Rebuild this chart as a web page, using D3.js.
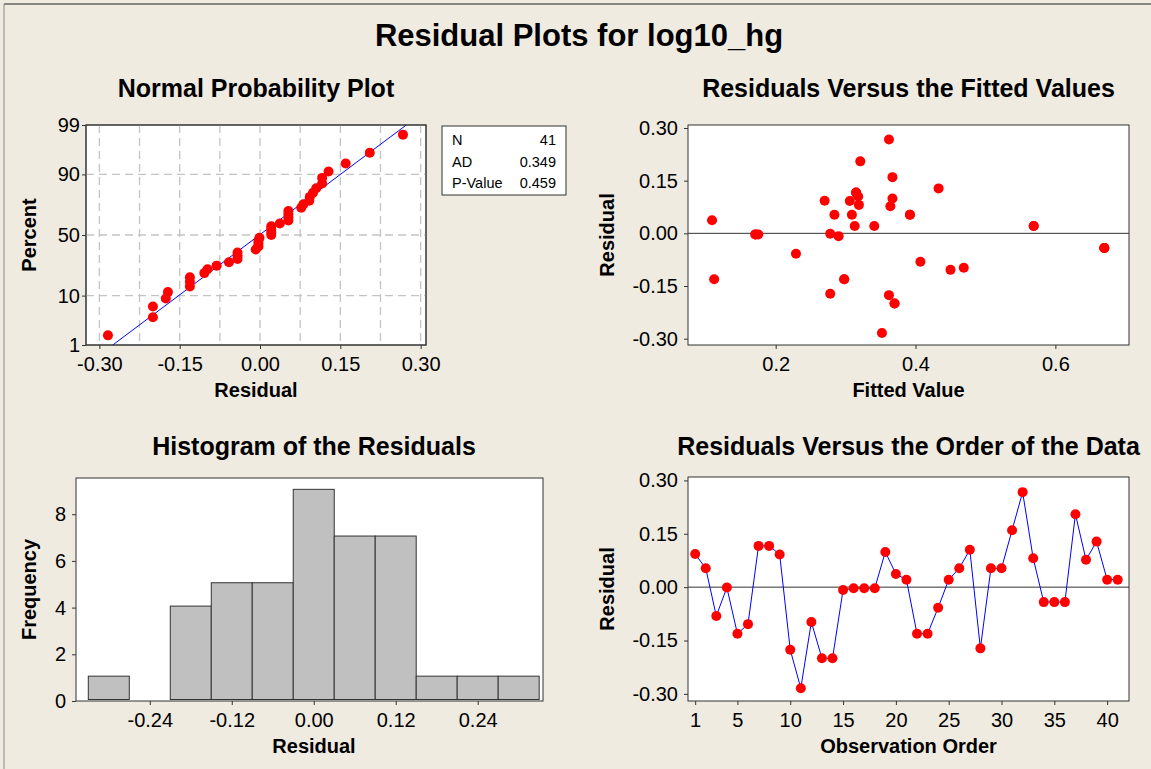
<!DOCTYPE html>
<html>
<head>
<meta charset="utf-8">
<script src="https://d3js.org/d3.v7.min.js"></script>
<style>
body { margin: 0; background: #efebe1; }
svg text { font-family: "Liberation Sans", Arial, sans-serif; fill: #000; }
.tick text { font-size: 20px; }
.tick line { stroke: #333; }
.ttl { font-weight: bold; font-size: 25px; text-anchor: middle; }
.lab { font-weight: bold; font-size: 20px; text-anchor: middle; }
.frame { fill: #fff; stroke: #333; }
</style>
</head>
<body>
<svg width="1151" height="769"></svg>
<script>

// residuals in observation order
var residuals = [0.093, 0.053, -0.081, -0.001, -0.131, -0.104, 0.116, 0.116, 0.092, -0.176,
  -0.284, -0.098, -0.200, -0.200, -0.008, -0.003, -0.003, -0.003, 0.099, 0.037,
  0.021, -0.131, -0.131, -0.058, 0.021, 0.053, 0.105, -0.172, 0.053, 0.053,
  0.160, 0.267, 0.081, -0.042, -0.042, -0.042, 0.205, 0.077, 0.128, 0.021, 0.021];

// fitted values, same order
var fitted = [0.270, 0.284, 0.407, 0.278, 0.112, 0.450, 0.315, 0.315, 0.306, 0.362,
  0.352, 0.469, 0.370, 0.370, 0.290, 0.171, 0.171, 0.175, 0.367, 0.109,
  0.313, 0.298, 0.298, 0.229, 0.341, 0.309, 0.318, 0.278, 0.392, 0.392,
  0.367, 0.362, 0.319, 0.670, 0.670, 0.670, 0.321, 0.364, 0.433, 0.569, 0.569];

// histogram
var binMids = [-0.30, -0.24, -0.18, -0.12, -0.06, 0.00, 0.06, 0.12, 0.18, 0.24, 0.30];
var binCounts = [1, 0, 4, 5, 5, 9, 7, 7, 1, 1, 1];
var binWidth = 0.06;

// tick labels
var resTicks = [-0.30, -0.15, 0.00, 0.15, 0.30];
var pctTicks = [1, 10, 50, 90, 99];
var pctGrid = [10, 50, 90];
var fitTicks = [0.2, 0.4, 0.6];
var histXTicks = [-0.24, -0.12, 0.00, 0.12, 0.24];
var histYTicks = [0, 2, 4, 6, 8];
var obsTicks = [1, 5, 10, 15, 20, 25, 30, 35, 40];

var statRows = [["N", "41"], ["AD", "0.349"], ["P-Value", "0.459"]];

var svg = d3.select("svg");
var loc = d3.formatLocale({decimal: ".", thousands: ",", grouping: [3], currency: ["", ""], minus: "-"});

// inverse normal cdf (Acklam)
function probit(p) {
  var a = [-3.969683028665376e+01, 2.209460984245205e+02, -2.759285104469687e+02, 1.383577518672690e+02, -3.066479806614716e+01, 2.506628277459239e+00];
  var b = [-5.447609879822406e+01, 1.615858368580409e+02, -1.556989798598866e+02, 6.680131188771972e+01, -1.328068155288572e+01];
  var c = [-7.784894002430293e-03, -3.223964580411365e-01, -2.400758277161838e+00, -2.549671010312317e+00, 4.374664141464968e+00, 2.938163982698783e+00];
  var d = [7.784695709041462e-03, 3.224671290700398e-01, 2.445134137142996e+00, 3.754408661907416e+00];
  var pl = 0.02425, q, r;
  if (p < pl) {
    q = Math.sqrt(-2 * Math.log(p));
    return (((((c[0]*q+c[1])*q+c[2])*q+c[3])*q+c[4])*q+c[5]) / ((((d[0]*q+d[1])*q+d[2])*q+d[3])*q+1);
  }
  if (p > 1 - pl) {
    q = Math.sqrt(-2 * Math.log(1 - p));
    return -(((((c[0]*q+c[1])*q+c[2])*q+c[3])*q+c[4])*q+c[5]) / ((((d[0]*q+d[1])*q+d[2])*q+d[3])*q+1);
  }
  q = p - 0.5; r = q * q;
  return (((((a[0]*r+a[1])*r+a[2])*r+a[3])*r+a[4])*r+a[5])*q / (((((b[0]*r+b[1])*r+b[2])*r+b[3])*r+b[4])*r+1);
}

// outer border + main title
svg.append("line").attr("x1", 4).attr("x2", 1151).attr("y1", 4).attr("y2", 4).attr("stroke", "#222");
svg.append("line").attr("x1", 4).attr("x2", 4).attr("y1", 4).attr("y2", 769).attr("stroke", "#888");
svg.append("text").attr("x", 579).attr("y", 46).attr("text-anchor", "middle")
  .style("font-weight", "bold").style("font-size", "31px").text("Residual Plots for log10_hg");

function frame(box) {
  var g = svg.append("g");
  g.append("rect").attr("class", "frame")
    .attr("x", box.l).attr("y", box.t).attr("width", box.r - box.l).attr("height", box.b - box.t);
  return g;
}

function xAxis(g, box, x, xt, xf) {
  g.append("g").attr("transform", "translate(0," + box.b + ")")
    .call(d3.axisBottom(x).tickValues(xt).tickFormat(xf).tickSize(4).tickPadding(8))
    .call(function(s) { s.select(".domain").remove(); });
}
function yAxis(g, box, y, yt, yf, ypad) {
  g.append("g").attr("transform", "translate(" + box.l + ",0)")
    .call(d3.axisLeft(y).tickValues(yt).tickFormat(yf).tickSize(4).tickPadding(ypad))
    .call(function(s) { s.select(".domain").remove(); });
}

function labels(box, title, xlab, ylab, ytop, xcenter) {
  var cx = xcenter || (box.l + box.r) / 2;
  svg.append("text").attr("class", "ttl").attr("x", cx).attr("y", ytop).text(title);
  svg.append("text").attr("class", "lab").attr("x", cx).attr("y", box.b + 52).text(xlab);
  svg.append("text").attr("class", "lab")
    .attr("transform", "translate(" + (box.l < 300 ? 36 : 614) + "," + (box.t + box.b) / 2 + ") rotate(-90)")
    .text(ylab);
}

var f2 = loc.format(".2f");

// ---------- Normal probability plot ----------
var b1 = {l: 86, r: 426, t: 125, b: 345};
var x1 = d3.scaleLinear().domain([-0.325, 0.310]).range([b1.l, b1.r]);
var y1 = d3.scaleLinear().domain([probit(0.01), probit(0.99)]).range([b1.b, b1.t]);
var g1 = frame(b1);

g1.selectAll(".vg").data(d3.range(-4, 5).map(function(k) { return k * 0.075; }))
  .enter().append("line")
  .attr("x1", function(d) { return x1(d); }).attr("x2", function(d) { return x1(d); })
  .attr("y1", b1.t).attr("y2", b1.b)
  .attr("stroke", "#c4c4c4").attr("stroke-width", 1.3).attr("stroke-dasharray", "8,5");
g1.selectAll(".hg").data(pctGrid).enter().append("line")
  .attr("x1", b1.l).attr("x2", b1.r)
  .attr("y1", function(d) { return y1(probit(d / 100)); }).attr("y2", function(d) { return y1(probit(d / 100)); })
  .attr("stroke", "#c4c4c4").attr("stroke-width", 1.3).attr("stroke-dasharray", "8,5");

var mu = d3.mean(residuals), sd = d3.deviation(residuals);
g1.append("line")
  .attr("x1", x1(mu + sd * probit(0.01))).attr("y1", y1(probit(0.01)))
  .attr("x2", x1(mu + sd * probit(0.99))).attr("y2", y1(probit(0.99)))
  .attr("stroke", "#0000ff").attr("stroke-width", 1);

var sorted = residuals.slice().sort(d3.ascending);
var n = sorted.length;
g1.selectAll("circle").data(sorted).enter().append("circle")
  .attr("cx", function(d) { return x1(d); })
  .attr("cy", function(d, i) { return y1(probit((i + 1 - 0.3) / (n + 0.4))); })
  .attr("r", 5).attr("fill", "#ff0000");

g1.append("rect").attr("x", b1.l).attr("y", b1.t).attr("width", b1.r - b1.l).attr("height", b1.b - b1.t)
  .attr("fill", "none").attr("stroke", "#333");
xAxis(g1, b1, x1, resTicks, f2);
yAxis(g1, b1, y1, pctTicks.map(function(p) { return probit(p / 100); }),
  function(z, i) { return pctTicks[i]; }, 2);
labels(b1, "Normal Probability Plot", "Residual", "Percent", 97, 256);

// stats box
var sb = svg.append("g");
sb.append("rect").attr("x", 442).attr("y", 126).attr("width", 124).attr("height", 69)
  .attr("fill", "#fff").attr("stroke", "#333");
statRows.forEach(function(r, i) {
  sb.append("text").attr("x", 452).attr("y", 145 + i * 21.5).style("font-size", "14.5px").text(r[0]);
  sb.append("text").attr("x", 556).attr("y", 145 + i * 21.5).attr("text-anchor", "end").style("font-size", "14.5px").text(r[1]);
});

// ---------- Residuals vs fitted ----------
var b2 = {l: 688, r: 1129, t: 125, b: 345};
var x2 = d3.scaleLinear().domain([0.0746, 0.7053]).range([b2.l, b2.r]);
var y2 = d3.scaleLinear().domain([-0.318, 0.3085]).range([b2.b, b2.t]);
var g2 = frame(b2);
g2.append("line").attr("x1", b2.l).attr("x2", b2.r).attr("y1", y2(0)).attr("y2", y2(0)).attr("stroke", "#333");
g2.selectAll("circle").data(residuals).enter().append("circle")
  .attr("cx", function(d, i) { return x2(fitted[i]); })
  .attr("cy", function(d) { return y2(d); })
  .attr("r", 5).attr("fill", "#ff0000");
xAxis(g2, b2, x2, fitTicks, loc.format(".1f"));
yAxis(g2, b2, y2, resTicks, f2, 6);
labels(b2, "Residuals Versus the Fitted Values", "Fitted Value", "Residual", 97);

// ---------- Histogram ----------
var b3 = {l: 76, r: 543, t: 478, b: 701};
var x3 = d3.scaleLinear().domain([-0.348, 0.3356]).range([b3.l, b3.r]);
var y3 = d3.scaleLinear().domain([0, 9.55]).range([b3.b, b3.t]);
var g3 = frame(b3);
g3.selectAll(".bar").data(binMids).enter().append("rect")
  .attr("x", function(d) { return x3(d - binWidth / 2); })
  .attr("width", function(d) { return x3(d + binWidth / 2) - x3(d - binWidth / 2); })
  .attr("y", function(d, i) { return y3(binCounts[i]) - 1.5; })
  .attr("height", function(d, i) { return y3(0) - y3(binCounts[i]); })
  .attr("fill", "#c0c0c0").attr("stroke", "#333");
xAxis(g3, b3, x3, histXTicks, f2);
yAxis(g3, b3, y3, histYTicks, loc.format("d"), 6);
labels(b3, "Histogram of the Residuals", "Residual", "Frequency", 455, 314);

// ---------- Residuals vs order ----------
var b4 = {l: 688, r: 1129, t: 477, b: 701};
var x4 = d3.scaleLinear().domain([0.32, 42.07]).range([b4.l, b4.r]);
var y4 = d3.scaleLinear().domain([-0.32, 0.3096]).range([b4.b, b4.t]);
var g4 = frame(b4);
g4.append("line").attr("x1", b4.l).attr("x2", b4.r).attr("y1", y4(0)).attr("y2", y4(0)).attr("stroke", "#333");
g4.append("path").datum(residuals)
  .attr("d", d3.line().x(function(d, i) { return x4(i + 1); }).y(function(d) { return y4(d); }))
  .attr("fill", "none").attr("stroke", "#0000ff").attr("stroke-width", 1);
g4.selectAll("circle").data(residuals).enter().append("circle")
  .attr("cx", function(d, i) { return x4(i + 1); })
  .attr("cy", function(d) { return y4(d); })
  .attr("r", 5).attr("fill", "#ff0000");
xAxis(g4, b4, x4, obsTicks, loc.format("d"));
yAxis(g4, b4, y4, resTicks, f2, 6);
labels(b4, "Residuals Versus the Order of the Data", "Observation Order", "Residual", 455);

</script>
</body>
</html>
